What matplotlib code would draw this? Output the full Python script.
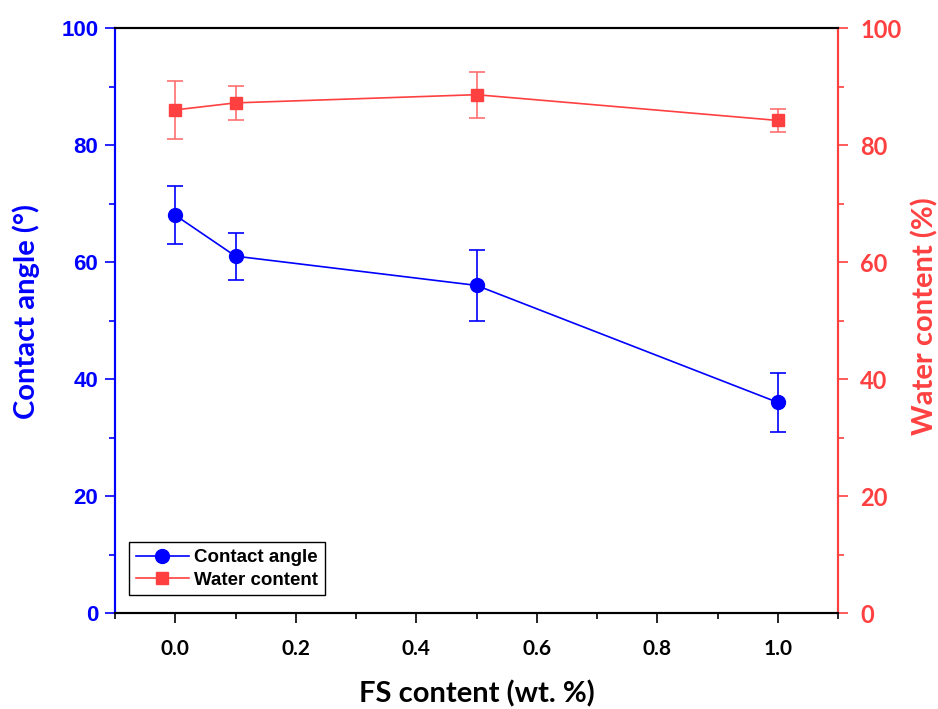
import matplotlib
matplotlib.use("Agg")
import matplotlib.pyplot as plt
from matplotlib.ticker import MultipleLocator
from matplotlib.lines import Line2D

fs_content = [0.0, 0.1, 0.5, 1.0]
contact_angle = [68, 61, 56, 36]
contact_angle_err = [5, 4, 6, 5]
water_content = [86, 87.2, 88.6, 84.2]
water_content_err = [4.9, 2.9, 3.9, 2.0]

BLUE = "#0000FF"
RED = "#FF4040"

fig = plt.figure(figsize=(9.38, 7.09), dpi=100)
ax = fig.add_axes([0.1226, 0.1354, 0.7708, 0.8251])
ax2 = ax.twinx()

ax.errorbar(fs_content, contact_angle, yerr=contact_angle_err, color=BLUE,
            marker="o", markersize=10, lw=1.2, capsize=6, elinewidth=1.2,
            capthick=1.2, ecolor=BLUE, zorder=3)
ax2.errorbar(fs_content, water_content, yerr=water_content_err, color=RED,
             marker="s", markersize=9, lw=1.2, capsize=6, elinewidth=1.2,
             capthick=1.2, ecolor="#FF7070", zorder=3)

ax.set_xlim(-0.1, 1.1)
ax.set_ylim(0, 100)
ax2.set_ylim(0, 100)

ax.xaxis.set_major_locator(MultipleLocator(0.2))
ax.xaxis.set_minor_locator(MultipleLocator(0.1))
ax.yaxis.set_major_locator(MultipleLocator(20))
ax.yaxis.set_minor_locator(MultipleLocator(10))
ax2.yaxis.set_major_locator(MultipleLocator(20))
ax2.yaxis.set_minor_locator(MultipleLocator(10))

ax.tick_params(axis="x", which="major", direction="out", length=7, width=1.2, colors="black", pad=12)
ax.tick_params(axis="x", which="minor", direction="out", length=4, width=1.2)
ax.tick_params(axis="y", which="major", direction="out", length=7, width=1.2, colors=BLUE, pad=5)
ax.tick_params(axis="y", which="minor", direction="out", length=4, width=1.2, colors=BLUE)
ax2.tick_params(axis="y", which="major", direction="out", length=7, width=1.2, colors=RED, pad=9)
ax2.tick_params(axis="y", which="minor", direction="out", length=4, width=1.2, colors=RED)

for a in (ax, ax2):
    a.spines["left"].set_color(BLUE)
    a.spines["right"].set_color(RED)
    a.spines["top"].set_color("black")
    a.spines["bottom"].set_color("black")
    for s in a.spines.values():
        s.set_linewidth(1.5)

ax.set_xticks([0.0, 0.2, 0.4, 0.6, 0.8, 1.0])
ax.set_xticklabels(["0.0", "0.2", "0.4", "0.6", "0.8", "1.0"],
                   fontfamily="Lato", fontweight="bold", fontsize=15)
for lab in ax.get_yticklabels():
    lab.set_fontfamily("Liberation Sans")
    lab.set_fontweight("bold")
    lab.set_fontsize(16)
for lab in ax2.get_yticklabels():
    lab.set_fontfamily("Lato")
    lab.set_fontweight("bold")
    lab.set_fontsize(17)

ax.set_xlabel("FS content (wt. %)", fontfamily="Lato", fontweight="bold",
              fontsize=21)
ax.xaxis.set_label_coords(0.5, -0.1145)
ax.set_ylabel("Contact angle (°)", fontfamily="Lato", fontweight="bold",
              fontsize=21, color=BLUE)
ax.yaxis.set_label_coords(-0.104, 0.516)
ax2.set_ylabel("Water content (%)", fontfamily="Lato", fontweight="bold",
               fontsize=21, color=RED, rotation=90)
ax2.yaxis.set_label_coords(1.102, 0.508)

h1 = Line2D([], [], color=BLUE, marker="o", markersize=10, lw=1.2)
h2 = Line2D([], [], color=RED, marker="s", markersize=9, lw=1.2)
leg = ax2.legend([h1, h2], ["Contact angle", "Water content"], loc="lower left",
                 bbox_to_anchor=(0.02, 0.03),
                 frameon=True, fancybox=False, edgecolor="black", framealpha=1,
                 prop={"family": "Liberation Sans", "weight": "bold", "size": 13.5},
                 handlelength=2.8, borderpad=0.35, labelspacing=0.3, handletextpad=0.3,
                 borderaxespad=0)
leg.get_frame().set_linewidth(1.0)

fig.savefig("out.png", dpi=100)
